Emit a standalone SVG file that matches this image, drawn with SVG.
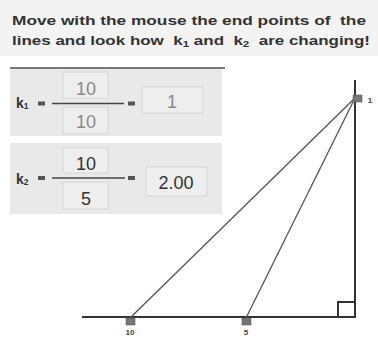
<svg xmlns="http://www.w3.org/2000/svg" width="378" height="338" viewBox="0 0 378 338">
<style>
.title{font-family:"Liberation Sans",Arial,sans-serif;font-weight:bold;font-size:12.5px;fill:#333;white-space:pre}
.k{font-family:"Liberation Sans",Arial,sans-serif;font-weight:bold;font-size:14px;fill:#333}
.sub{font-size:8.5px}
.num{font-family:"Liberation Sans",Arial,sans-serif;font-size:18px;text-anchor:middle}
.gray{fill:#8a8a8a}
.dark{fill:#333}
.panel{fill:#e9e9e9}
.box{fill:#eeeeee;stroke:#d6d6d6;stroke-width:1}
.frac{stroke:#444;stroke-width:1.5}
.eq{fill:#555}
.geo{stroke:#333;stroke-width:2;fill:none}
.seg{stroke:#555;stroke-width:1.3;fill:none}
.handle{fill:#777;stroke:#555;stroke-width:0.5}
.lbl{font-family:"Liberation Sans",Arial,sans-serif;font-size:8px;font-weight:bold;fill:#444;text-anchor:middle}
</style>
<rect width="378" height="338" fill="#ffffff"/>
<rect x="0" y="0" width="378" height="56" fill="#f3f3f3"/>
<g id="title">
<text class="title" xml:space="preserve" x="12" y="25" textLength="354" lengthAdjust="spacingAndGlyphs">Move with the mouse the end points of  the</text>
<text class="title" xml:space="preserve" x="12" y="45" textLength="358" lengthAdjust="spacingAndGlyphs">lines and look how  k<tspan class="sub" dy="2">1</tspan><tspan dy="-2"> and  k</tspan><tspan class="sub" dy="2">2</tspan><tspan dy="-2">  are changing!</tspan></text>
</g>
<g id="panel1">
<rect class="panel" x="10" y="68" width="212" height="68"/>
<line x1="10" y1="68" x2="225" y2="68" stroke="#777" stroke-width="2"/>
<text class="k" x="16" y="108">k<tspan class="sub" dy="1">1</tspan></text>
<rect class="eq" x="38" y="101.5" width="7" height="4"/>
<rect class="box" x="63" y="72" width="45" height="26"/>
<rect class="box" x="63" y="107" width="45" height="27"/>
<text class="num gray" x="86" y="95">10</text>
<text class="num gray" x="86" y="128">10</text>
<line class="frac" x1="52" y1="103.5" x2="124" y2="103.5"/>
<rect class="eq" x="128" y="101.5" width="7" height="4"/>
<rect class="box" x="142" y="87" width="61" height="26"/>
<text class="num gray" x="172" y="108">1</text>
</g>
<g id="panel2">
<rect class="panel" x="10" y="143" width="212" height="71"/>
<text class="k" x="16" y="184">k<tspan class="sub" dy="1">2</tspan></text>
<rect class="eq" x="38" y="176" width="7" height="4"/>
<rect class="box" x="63" y="148" width="45" height="25"/>
<rect class="box" x="63" y="182" width="45" height="27"/>
<text class="num dark" x="86" y="170">10</text>
<text class="num dark" x="86" y="205">5</text>
<line class="frac" x1="52" y1="178" x2="125" y2="178"/>
<rect class="eq" x="128" y="176" width="7" height="4"/>
<rect class="box" x="146" y="167" width="61" height="29"/>
<text class="num dark" x="176" y="189">2.00</text>
</g>
<g id="connectors">
<line class="geo" x1="355" y1="80" x2="355" y2="318"/>
<line class="geo" x1="82" y1="317" x2="356" y2="317"/>
<polyline class="geo" points="338,317 338,302 355,302" stroke-width="1.8"/>
<line class="seg" x1="130" y1="318" x2="355" y2="98"/>
<line class="seg" x1="246" y1="318" x2="355" y2="98"/>
</g>
<g id="pointTop">
<rect class="handle" x="353" y="95" width="9" height="7"/>
<text class="lbl" x="370" y="103">1</text>
</g>
<g id="point10">
<rect class="handle" x="126" y="318" width="9" height="7"/>
<text class="lbl" x="130" y="335">10</text>
</g>
<g id="point5">
<rect class="handle" x="242" y="318" width="9" height="7"/>
<text class="lbl" x="246" y="335">5</text>
</g>
</svg>
